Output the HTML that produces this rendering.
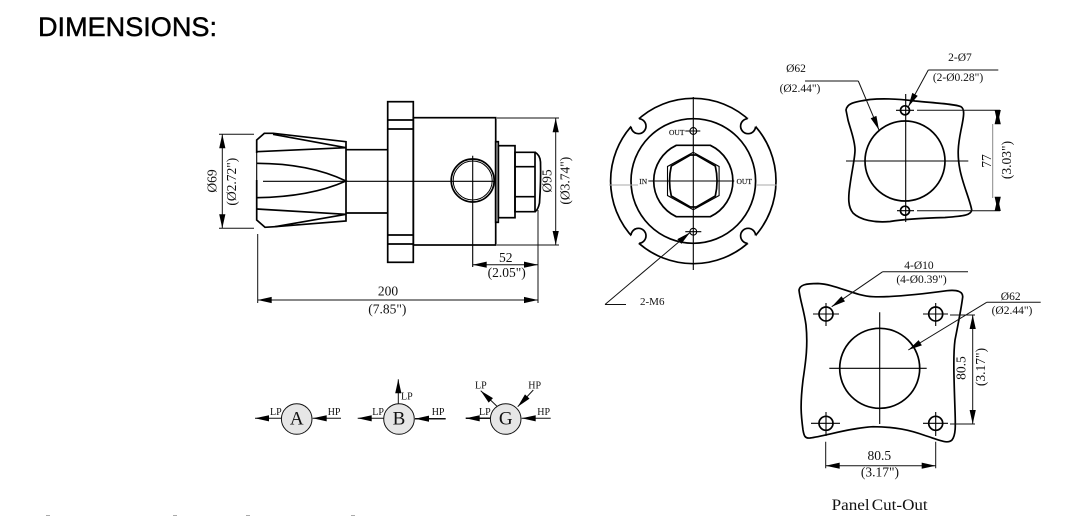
<!DOCTYPE html>
<html><head><meta charset="utf-8"><style>
html,body{margin:0;padding:0;background:#fff}
svg{display:block}
text{font-family:"Liberation Serif",serif;fill:#111}
.t{font-size:13.5px;text-anchor:middle}
.sm{font-size:11.5px;text-anchor:middle}
.l{font-size:10px}
.i{font-size:7.5px;stroke:#111;stroke-width:.15}
.o{fill:none;stroke:#000;stroke-width:1.7}
.c{fill:none;stroke:#000;stroke-width:1.1}
.d{fill:none;stroke:#111;stroke-width:1}
.a{marker-end:url(#ar);marker-start:url(#ar)}
.e{marker-end:url(#ar)}
</style></head><body>
<svg width="1075" height="516" viewBox="0 0 1075 516" xmlns="http://www.w3.org/2000/svg">
<defs>
<marker id="ar" markerUnits="userSpaceOnUse" markerWidth="16" markerHeight="8" refX="14" refY="4" orient="auto-start-reverse" viewBox="0 0 14 8"><path d="M0,0.9 L14,4 L0,7.1 Z" fill="#000"/></marker>
</defs>
<rect width="1075" height="516" fill="#fff"/>
<text x="38" y="36" style="font-family:'Liberation Sans',sans-serif;font-size:27px;fill:#000;stroke:#000;stroke-width:.45" textLength="179" lengthAdjust="spacingAndGlyphs">DIMENSIONS:</text>

<!-- side view -->
<g class="o">
<rect x="387.7" y="101.700" width="25.600" height="160.600"/>
<path d="M387.700 120H413.300M387.700 129H413.300M387.700 235H413.300M387.700 244H413.300"/>
<rect x="413.300" y="117.700" width="82.400" height="127.300"/>
<rect x="495.700" y="141.700" width="2.600" height="80.600"/>
<rect x="498.300" y="145.700" width="16.700" height="72"/>
<path d="M515 152.300H535V211.700H515ZM515 166.700H535M515 196.700H535"/>
<path d="M535 152.300Q540 155 540.500 162Q541 181 539.500 203Q538 210 535 211.700"/>
<path d="M256.700 180V220L265 227.300L275 226.700L346 221V141.700L273.300 133.300H264.300L256.700 140V153"/>
<path d="M256.700 151.700L346 147.700L273 134.300"/>
<path d="M256.700 163.300Q310 163.500 346 181Q310 197 256.700 197.700"/>
<path d="M256.700 209L346 214.300L275 226.700"/>
<path d="M346 149.700H387.700M346 213H387.700"/>
<circle cx="472.700" cy="180.500" r="21.500"/>
<circle cx="472.700" cy="180.500" r="19.500" stroke-width="1"/>
</g>
<path class="c" d="M256.700 153V180M263 181.300H495.700M472.700 155.700V267"/>
<!-- side dims -->
<path class="d" d="M219 134.300H254M219 228.300H254M497 118H559M497 245H559M257.700 234V303M538 210V303"/>
<line class="d a" x1="222.300" y1="134.300" x2="222.300" y2="228.300"/>
<line class="d a" x1="555.700" y1="118.300" x2="555.700" y2="245"/>
<line class="d a" x1="472.700" y1="264.700" x2="538" y2="264.700"/>
<line class="d a" x1="257.700" y1="300" x2="538" y2="300"/>
<text class="t" transform="translate(216.700,181) rotate(-90)">Ø69</text>
<text class="t" transform="translate(236,181.700) rotate(-90)">(Ø2.72")</text>
<text class="t" transform="translate(551.700,181) rotate(-90)">Ø95</text>
<text class="t" transform="translate(569.300,180.700) rotate(-90)">(Ø3.74")</text>
<text class="t" x="505.700" y="262">52</text>
<text class="t" x="506.700" y="277">(2.05")</text>
<text class="t" x="388" y="295.700">200</text>
<text class="t" x="387.300" y="313.300">(7.85")</text>

<!-- front view -->
<g transform="translate(693.300,181)">
<circle r="82.700" class="o"/>
<g transform="rotate(45)"><circle cy="-77.500" r="7.500" fill="#fff" stroke="#000" stroke-width="1.700"/><rect x="-5.500" y="-90" width="11" height="8" fill="#fff"/></g>
<g transform="rotate(135)"><circle cy="-77.500" r="7.500" fill="#fff" stroke="#000" stroke-width="1.700"/><rect x="-5.500" y="-90" width="11" height="8" fill="#fff"/></g>
<g transform="rotate(225)"><circle cy="-77.500" r="7.500" fill="#fff" stroke="#000" stroke-width="1.700"/><rect x="-5.500" y="-90" width="11" height="8" fill="#fff"/></g>
<g transform="rotate(315)"><circle cy="-77.500" r="7.500" fill="#fff" stroke="#000" stroke-width="1.700"/><rect x="-5.500" y="-90" width="11" height="8" fill="#fff"/></g>
<circle r="62.300" class="o"/>
<path class="o" d="M-17 -35.700H17A39.500 39.500 0 0 1 17 35.700H-17A39.500 39.500 0 0 1 -17 -35.700Z"/>
<path class="c" d="M0 -28.700L25.800 -14.500V14.500L0 28.700L-25.800 14.500V-14.500Z"/>
<path class="o" d="M-3 -26L3 -26L22 -15Q25.500 0 22 15L3 26L-3 26L-22 15Q-25.500 0 -22 -15Z"/>
<circle cy="-50" r="3.400" class="c"/>
<circle cy="50.700" r="3.400" class="c"/>
<path class="c" d="M0 -84V89M-8 -50H7M-8 50.700H8M-45 0H41"/>
</g>
<path d="M609 185H638M756 185H777" stroke="#aaa" stroke-width="1" fill="none"/>
<text class="i" x="669" y="135">OUT</text>
<text class="i" x="639.300" y="184">IN</text>
<text class="i" x="736.500" y="184">OUT</text>
<path class="d" d="M605 304.500H626"/>
<line class="d e" x1="605" y1="304.500" x2="690" y2="232.500"/>
<text x="640" y="305" style="font-size:11px">2-M6</text>

<!-- panel 1 -->
<path class="o" d="M846 110C847 104 852 102 870 99.500C885 98 903 99.500 915 101C935 103 955 104 961 106.700C965 109 964 116 961 130C958 145 957 155 960 170C963 185 970 200 971.700 210C971 215 965 216 945 217.500C925 218 905 219 890 221.500C875 223 860 220 853 213C848 207 848 198 850 185C852 170 855 158 855 150C855 140 850 128 848 120Z"/>
<circle cx="905" cy="161" r="40" class="o"/>
<circle cx="905" cy="110.300" r="4.500" class="o"/>
<circle cx="905" cy="210.700" r="4.500" class="o"/>
<path class="c" d="M846 161H968.300M905.700 94V222M896 110.300H914M897 210.700H914"/>
<path class="d" d="M917 110.300H1000M917 210.700H1000"/>
<line class="d a" x1="997.700" y1="110.300" x2="997.700" y2="124"/>
<line class="d a" x1="997.700" y1="197" x2="997.700" y2="210.700"/>
<path d="M992.700 124V198" stroke="#888" stroke-width="1" fill="none"/>
<path class="d" d="M805 81H858.300"/>
<line class="d e" x1="858.300" y1="81" x2="879" y2="130"/>
<path class="d" d="M998.300 70H928.300"/>
<line class="d e" x1="928.300" y1="70" x2="908.300" y2="106.700"/>
<text class="sm" x="796" y="72">Ø62</text>
<text class="sm" x="800" y="92">(Ø2.44")</text>
<text class="sm" x="960" y="61">2-Ø7</text>
<text class="sm" x="958" y="81">(2-Ø0.28")</text>
<text class="t" transform="translate(991,161) rotate(-90)">77</text>
<text class="t" transform="translate(1011,160) rotate(-90)">(3.03")</text>

<!-- panel 2 -->
<path class="o" d="M799 290C800 285 805 283.500 818 283.500C835 284 855 296 873 296.700C895 297.500 930 293 947 290.700C958 289.500 963 292 962.700 297C961 310 958 325 955 340C953 355 954 380 955 410C955.500 425 956 435 952 440C948 444 942 441 925 435.500C910 430 895 426.700 873 426.700C850 428 825 436 810 438C805 438.500 804 436 803 430C801 415 800 405 803 380C806 360 808 345 806 325C804 310 800 300 799 290Z"/>
<circle cx="879.700" cy="368.300" r="40" class="o"/>
<circle cx="826" cy="314" r="7" class="o"/>
<circle cx="935.700" cy="314" r="7" class="o"/>
<circle cx="826" cy="423.300" r="7" class="o"/>
<circle cx="935.700" cy="423.300" r="7" class="o"/>
<path class="c" d="M829.300 368.300H926.700M879.700 312.300V424M813 314H839M826 303V326M923 314H948M935.700 303V326M811 423.300H840M826 412V436M923 423.300H948M935.700 412V436"/>
<path class="d" d="M950 315H975M950 424H975M825.700 441.700V468.300M935.700 441.700V468.300"/>
<line class="d a" x1="972.700" y1="315" x2="972.700" y2="424"/>
<line class="d a" x1="825.700" y1="465.700" x2="935.700" y2="465.700"/>
<path class="d" d="M968 271.700H882.700"/>
<line class="d e" x1="882.700" y1="271.700" x2="831.700" y2="306.700"/>
<path class="d" d="M1040.700 302.300H986.700"/>
<line class="d e" x1="986.700" y1="302.300" x2="908.300" y2="350"/>
<text class="sm" x="919" y="269">4-Ø10</text>
<text class="sm" x="921.500" y="283">(4-Ø0.39")</text>
<text class="sm" x="1010.700" y="300">Ø62</text>
<text class="sm" x="1012" y="314">(Ø2.44")</text>
<text class="t" transform="translate(965.500,368) rotate(-90)">80.5</text>
<text class="t" transform="translate(985,367) rotate(-90)">(3.17")</text>
<text class="t" x="879.300" y="460">80.5</text>
<text class="t" x="880" y="476.700">(3.17")</text>
<text x="831.700" y="510" style="font-size:16px;word-spacing:-2px" textLength="96" lengthAdjust="spacingAndGlyphs">Panel Cut-Out</text>

<!-- symbols -->
<g fill="#e6e6e6" stroke="#111" stroke-width="1">
<circle cx="296.700" cy="419" r="15.300"/>
<circle cx="399" cy="419" r="15.300"/>
<circle cx="505.700" cy="419" r="15.300"/>
</g>
<g class="d">
<line class="e" x1="281.400" y1="418.300" x2="255" y2="418.300"/>
<line class="e" x1="341" y1="418.300" x2="312.700" y2="418.300"/>
<line class="e" x1="383.700" y1="418.300" x2="357.700" y2="418.300"/>
<line class="e" x1="445.700" y1="418.700" x2="415" y2="418.700" stroke-width="1.500"/>
<line class="e" x1="398.300" y1="403.700" x2="398.300" y2="379.300"/>
<line class="e" x1="490.500" y1="418.300" x2="465.700" y2="418.300" stroke-width="1.500"/>
<line class="e" x1="550.700" y1="418.300" x2="521.700" y2="418.300"/>
<line class="e" x1="496.700" y1="406" x2="480.700" y2="390.700"/>
<line class="e" x1="533.300" y1="390" x2="517.700" y2="406.700"/>
</g>
<text class="l" x="270" y="415">LP</text>
<text class="l" x="327.700" y="415">HP</text>
<text class="l" x="372.300" y="415">LP</text>
<text class="l" x="431.700" y="415">HP</text>
<text class="l" x="401" y="399.300">LP</text>
<text class="l" x="479" y="415">LP</text>
<text class="l" x="537.300" y="415">HP</text>
<text class="l" x="475" y="388.300">LP</text>
<text class="l" x="528.300" y="388.300">HP</text>
<text x="296.700" y="424.500" text-anchor="middle" style="font-size:19px">A</text>
<text x="399" y="424.500" text-anchor="middle" style="font-size:19px">B</text>
<text x="505.700" y="424.500" text-anchor="middle" style="font-size:19px">G</text>

<g fill="#aaa"><rect x="46" y="515" width="4" height="1"/><rect x="173" y="515" width="4" height="1"/><rect x="246" y="515" width="4" height="1"/><rect x="351" y="515" width="4" height="1"/></g>
</svg>
</body></html>
